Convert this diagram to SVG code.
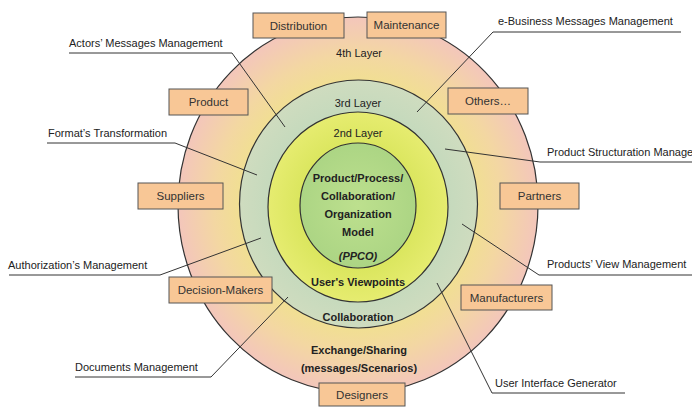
<svg xmlns="http://www.w3.org/2000/svg" width="692" height="408" viewBox="0 0 692 408">
<defs>
<radialGradient id="g4" cx="50%" cy="50%" r="50%">
<stop offset="0.6" stop-color="#f0e28c"/>
<stop offset="0.8" stop-color="#f3d7a2"/>
<stop offset="1" stop-color="#f3c6bb"/>
</radialGradient>
<radialGradient id="g3" cx="50%" cy="50%" r="50%">
<stop offset="0.7" stop-color="#c3d9bc"/>
<stop offset="1" stop-color="#cfdcbf"/>
</radialGradient>
<radialGradient id="g2" cx="50%" cy="50%" r="50%">
<stop offset="0.6" stop-color="#d9e55c"/>
<stop offset="1" stop-color="#e6ec70"/>
</radialGradient>
<radialGradient id="g1" cx="50%" cy="50%" r="50%">
<stop offset="0" stop-color="#bde08e"/>
<stop offset="1" stop-color="#acd584"/>
</radialGradient>
</defs>
<style>
.ring{stroke:#333;stroke-width:1.2}
.box{fill:#f8c796;stroke:#555;stroke-width:1}
.bt{font-family:"Liberation Sans",Arial,sans-serif;font-size:11.5px;fill:#333;text-anchor:middle}
.lt{font-family:"Liberation Sans",Arial,sans-serif;font-size:11px;fill:#222;text-anchor:middle}
.ct{font-family:"Liberation Sans",Arial,sans-serif;font-size:11px;font-weight:bold;fill:#222;text-anchor:middle}
.lab{font-family:"Liberation Sans",Arial,sans-serif;font-size:11px;fill:#222}
.ln{fill:none;stroke:#333;stroke-width:1}
</style>
<rect width="692" height="408" fill="#fff"/>
<g id="layer4"><ellipse class="ring" cx="358" cy="205" rx="180" ry="188" fill="url(#g4)"/></g>
<g id="layer3"><ellipse class="ring" cx="358.5" cy="204" rx="119" ry="124" fill="url(#g3)"/></g>
<g id="layer2"><ellipse class="ring" cx="358" cy="207" rx="90" ry="95" fill="url(#g2)"/></g>
<g id="core"><ellipse class="ring" cx="358" cy="205.5" rx="58" ry="62.5" fill="url(#g1)"/></g>
<g id="ringtext">
<text class="lt" x="359" y="57">4th Layer</text>
<text class="lt" x="358" y="107">3rd Layer</text>
<text class="lt" x="358" y="137">2nd Layer</text>
<text class="ct" x="358" y="182">Product/Process/</text>
<text class="ct" x="358" y="200">Collaboration/</text>
<text class="ct" x="358" y="218">Organization</text>
<text class="ct" x="358" y="236">Model</text>
<text class="ct" x="358" y="260" font-style="italic">(PPCO)</text>
<text class="ct" x="358" y="286">User's Viewpoints</text>
<text class="ct" x="358" y="321">Collaboration</text>
<text class="ct" x="359" y="354">Exchange/Sharing</text>
<text class="ct" x="359" y="372">(messages/Scenarios)</text>
</g>
<g id="connectors">
<polyline class="ln" points="69,53 232,53 285,127"/>
<polyline class="ln" points="681,32 493,32 417,112"/>
<polyline class="ln" points="47,143 175,143 257,175"/>
<polyline class="ln" points="9,275 160,275 261,238"/>
<polyline class="ln" points="75,377 211,377 288,297"/>
<polyline class="ln" points="445,149 540,162 692,162"/>
<polyline class="ln" points="462,224 539,275 692,275"/>
<polyline class="ln" points="437,283 492,393 625,393"/>
</g>
<g id="labels">
<text class="lab" x="69" y="47">Actors’ Messages Management</text>
<text class="lab" x="498" y="25">e-Business Messages Management</text>
<text class="lab" x="48" y="137">Format’s Transformation</text>
<text class="lab" x="8" y="269">Authorization’s Management</text>
<text class="lab" x="75" y="371">Documents Management</text>
<text class="lab" x="547" y="156">Product Structuration Management</text>
<text class="lab" x="547" y="268">Products’ View Management</text>
<text class="lab" x="495" y="387">User Interface Generator</text>
</g>
<g id="distribution"><rect class="box" x="253" y="13" width="91" height="25"/><text class="bt" x="298.5" y="30">Distribution</text></g>
<g id="maintenance"><rect class="box" x="367" y="12" width="79" height="26"/><text class="bt" x="406.5" y="29">Maintenance</text></g>
<g id="product"><rect class="box" x="169" y="89" width="79" height="26"/><text class="bt" x="208.5" y="106">Product</text></g>
<g id="others"><rect class="box" x="448" y="88" width="80" height="26"/><text class="bt" x="488" y="105">Others…</text></g>
<g id="suppliers"><rect class="box" x="138" y="183" width="85" height="26"/><text class="bt" x="180.5" y="200">Suppliers</text></g>
<g id="partners"><rect class="box" x="500" y="183" width="79" height="26"/><text class="bt" x="539.5" y="200">Partners</text></g>
<g id="decision-makers"><rect class="box" x="169" y="277" width="103" height="26"/><text class="bt" x="220.5" y="294">Decision-Makers</text></g>
<g id="manufacturers"><rect class="box" x="461" y="285" width="91" height="25"/><text class="bt" x="506.5" y="302">Manufacturers</text></g>
<g id="designers"><rect class="box" x="319" y="383" width="86" height="23"/><text class="bt" x="362" y="399">Designers</text></g>
</svg>
